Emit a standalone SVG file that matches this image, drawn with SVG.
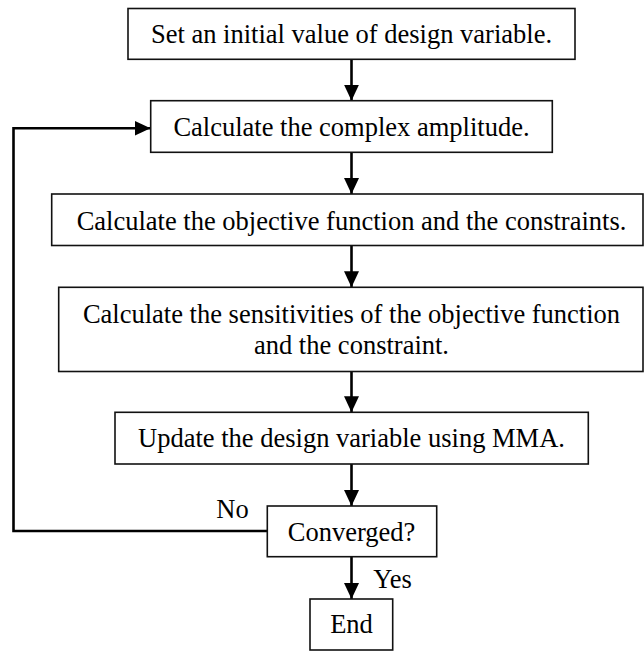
<svg xmlns="http://www.w3.org/2000/svg" width="644" height="651" viewBox="0 0 644 651">
  <defs>
    <marker id="ah" markerUnits="userSpaceOnUse" markerWidth="16" markerHeight="16" viewBox="0 0 16 16" refX="16" refY="8" orient="auto">
      <path d="M0,0.5 L16,8 L0,15.5 Z" fill="#000"/>
    </marker>
  </defs>
  <style>
    .box { fill: #fff; stroke: #111; stroke-width: 1.6; }
    .lbl { font-family: "Liberation Serif", "Times New Roman", serif; font-size: 26.5px; fill: #000; text-anchor: middle; }
    .con { fill: none; stroke: #000; stroke-width: 2.6; }
  </style>
  <rect width="644" height="651" fill="#fff"/>
  <g id="connectors">
    <line class="con" x1="351.5" y1="59.5" x2="351.5" y2="100.7" marker-end="url(#ah)"/>
    <line class="con" x1="351.5" y1="152.3" x2="351.5" y2="194" marker-end="url(#ah)"/>
    <line class="con" x1="351.5" y1="245.5" x2="351.5" y2="287.3" marker-end="url(#ah)"/>
    <line class="con" x1="351.5" y1="371.5" x2="351.5" y2="412.3" marker-end="url(#ah)"/>
    <line class="con" x1="351.5" y1="464" x2="351.5" y2="506" marker-end="url(#ah)"/>
    <line class="con" x1="351.5" y1="556.7" x2="351.5" y2="599" marker-end="url(#ah)"/>
    <polyline class="con" points="267.3,531 13.5,531 13.5,128.3 150.5,128.3" stroke-width="3" marker-end="url(#ah)"/>
    <text class="lbl" x="232.5" y="518">No</text>
    <text class="lbl" x="392.5" y="588">Yes</text>
  </g>
  <g id="n1">
    <rect class="box" x="128" y="8.5" width="447" height="50.8"/>
    <text class="lbl" x="351.5" y="42.5">Set an initial value of design variable.</text>
  </g>
  <g id="n2">
    <rect class="box" x="150.7" y="100.7" width="401.6" height="51.6"/>
    <text class="lbl" x="351.5" y="135.5">Calculate the complex amplitude.</text>
  </g>
  <g id="n3">
    <rect class="box" x="51.7" y="194" width="591.3" height="51.5"/>
    <text class="lbl" x="351.5" y="229.5">Calculate the objective function and the constraints.</text>
  </g>
  <g id="n4">
    <rect class="box" x="58.7" y="287.3" width="584.3" height="84.2"/>
    <text class="lbl" x="351.5" y="322.7">Calculate the sensitivities of the objective function</text>
    <text class="lbl" x="351.5" y="353.5">and the constraint.</text>
  </g>
  <g id="n5">
    <rect class="box" x="115" y="412.3" width="473.3" height="51.7"/>
    <text class="lbl" x="351.5" y="447">Update the design variable using MMA.</text>
  </g>
  <g id="n6">
    <rect class="box" x="267.3" y="506" width="169.4" height="50.7"/>
    <text class="lbl" x="351.5" y="540.7">Converged?</text>
  </g>
  <g id="n7">
    <rect class="box" x="310" y="599" width="82.7" height="51"/>
    <text class="lbl" x="351.5" y="633">End</text>
  </g>
</svg>
